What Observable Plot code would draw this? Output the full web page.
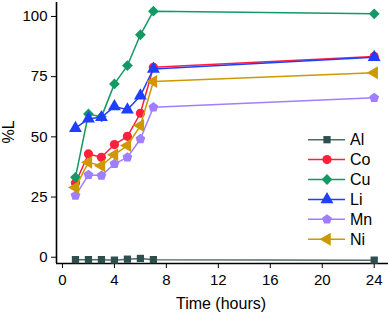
<!DOCTYPE html>
<html>
<head>
<meta charset="utf-8">
<script src="https://cdn.jsdelivr.net/npm/d3@7"></script>
<script src="https://cdn.jsdelivr.net/npm/@observablehq/plot@0.6"></script>
<style>
  html, body { margin: 0; padding: 0; background: #fff; }
  #chart { position: relative; width: 390px; height: 316px; }
  svg { font-family: "Liberation Sans", Arial, sans-serif; }
</style>
</head>
<body>
<div id="chart"></div>
<script>
const times = [1, 2, 3, 4, 5, 6, 7, 24];
const seriesNames = ["Al", "Co", "Cu", "Li", "Mn", "Ni"];
const Al = [-1, -1, -1, -1.2, -0.8, -0.5, -1, -1.2];
const Co = [30.8, 42.9, 41.5, 46.8, 50.2, 59.8, 78.9, 83.4];
const Cu = [33.2, 59.5, 58.3, 72.0, 79.6, 92.4, 102.2, 101.1];
const Li = [53.6, 57.5, 58.1, 62.6, 61.3, 67.1, 78.2, 83.1];
const Mn = [25.6, 34.2, 33.9, 38.8, 41.5, 49.1, 62.3, 66.2];
const Ni = [29.0, 39.4, 38.0, 42.6, 46.4, 54.7, 73.0, 76.6];
const xTicks = [0, 4, 8, 12, 16, 20, 24];
const yTicks = [0, 25, 50, 75, 100];
const colors = ["#2f4f4f", "#ff1f3f", "#139966", "#1f3fff", "#9f7fff", "#cc9900"];
const lineColors = ["#4f6b6b", "#ff1f3f", "#139966", "#1f3fff", "#9f7fff", "#cc9900"];

const pentagon = {
  draw(ctx, size) {
    const r = Math.sqrt(size / Math.PI) * 1.12;
    for (let k = 0; k < 5; k++) {
      const a = -Math.PI / 2 + k * 2 * Math.PI / 5;
      const x = r * Math.cos(a), y = r * Math.sin(a);
      if (k === 0) ctx.moveTo(x, y); else ctx.lineTo(x, y);
    }
    ctx.closePath();
  }
};
const diamond = {
  draw(ctx, size) {
    const r = Math.sqrt(size / 2);
    ctx.moveTo(0, -r); ctx.lineTo(r, 0); ctx.lineTo(0, r); ctx.lineTo(-r, 0);
    ctx.closePath();
  }
};
const triLeft = {
  draw(ctx, size) {
    const y = -Math.sqrt(size / (Math.sqrt(3) * 3));
    const s = Math.sqrt(3);
    ctx.moveTo(2 * y, 0);
    ctx.lineTo(-y, -s * y);
    ctx.lineTo(-y, s * y);
    ctx.closePath();
  }
};
const symbols = [d3.symbolSquare, d3.symbolCircle, diamond, d3.symbolTriangle, pentagon, triLeft];
const radii = [4.1, 4.6, 4.3, 4.8, 4.6, 4.8];

const allValues = [Al, Co, Cu, Li, Mn, Ni];
const data = [];
seriesNames.forEach((name, i) => {
  times.forEach((t, j) => data.push({series: name, idx: i, time: t, value: allValues[i][j]}));
});

const xDom = [-0.46, 25.1];
const yDom = [-2.6, 105.8];

const marks = [
  Plot.ruleX([xDom[0]], {y1: yDom[0], y2: yDom[1], stroke: "#000", strokeWidth: 1.6}),
  Plot.ruleY([yDom[0]], {x1: xDom[0], x2: xDom[1], stroke: "#000", strokeWidth: 1.6}),
  Plot.axisX({ticks: xTicks, tickSize: 5, tickPadding: 6, fontSize: 15, label: null, stroke: "#000"}),
  Plot.axisY({ticks: yTicks, tickSize: 5, tickPadding: 4, fontSize: 15, label: null, stroke: "#000"})
];
seriesNames.forEach((name, i) => {
  const d = data.filter(r => r.idx === i);
  marks.push(Plot.line(d, {x: "time", y: "value", stroke: lineColors[i], strokeWidth: 1.5}));
  marks.push(Plot.dot(d, {x: "time", y: "value", fill: colors[i], symbol: () => symbols[i], r: radii[i], stroke: "none"}));
});

const chart = Plot.plot({
  width: 390,
  height: 316,
  marginLeft: 56,
  marginRight: 2,
  marginTop: 2,
  marginBottom: 53,
  x: {domain: xDom},
  y: {domain: yDom},
  symbol: {type: "identity"},
  style: {fontFamily: "'Liberation Sans', Arial, sans-serif", fontSize: "15px", color: "#000", background: "#fff"},
  marks
});
document.getElementById("chart").appendChild(chart);

// axis titles and legend
const svg = d3.select(chart);
svg.append("text").attr("x", 221).attr("y", 309).attr("text-anchor", "middle")
  .attr("font-size", 16).attr("fill", "#000").text("Time (hours)");
svg.append("text").attr("transform", "translate(14,132) rotate(-90)").attr("text-anchor", "middle")
  .attr("font-size", 16).attr("fill", "#000").text("%L");

const lg = svg.append("g");
seriesNames.forEach((name, i) => {
  const y = 139.7 + i * 19.9;
  lg.append("line").attr("x1", 308).attr("x2", 345).attr("y1", y).attr("y2", y)
    .attr("stroke", lineColors[i]).attr("stroke-width", 1.5);
  const sz = Math.PI * radii[i] * radii[i];
  lg.append("path").attr("d", d3.symbol(symbols[i], sz)()).attr("transform", `translate(327,${y})`)
    .attr("fill", colors[i]);
  lg.append("text").attr("x", 350).attr("y", y).attr("dy", "0.36em").attr("font-size", 16)
    .attr("text-anchor", "start").attr("fill", "#000").text(name);
});
</script>
</body>
</html>
